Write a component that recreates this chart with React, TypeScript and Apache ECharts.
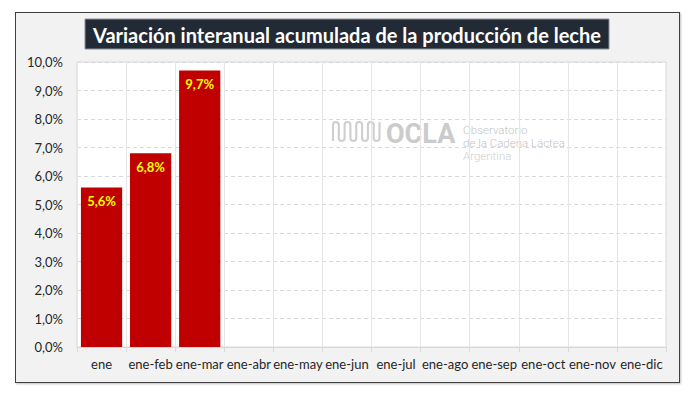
import React, { useEffect, useRef } from "react";
import * as echarts from "echarts";

const categories = ["ene", "ene-feb", "ene-mar", "ene-abr", "ene-may", "ene-jun", "ene-jul", "ene-ago", "ene-sep", "ene-oct", "ene-nov", "ene-dic"];
const values: (number | null)[] = [5.6, 6.8, 9.7, null, null, null, null, null, null, null, null, null];
const titleText = "Variación interanual acumulada de la producción de leche";

const wavePath =
  "M1,19 L1,3 A3,3 0 0 1 7,3 L7,16 A3,3 0 0 0 13,16 L13,3 A3,3 0 0 1 19,3 L19,16 A3,3 0 0 0 25,16 L25,3 A3,3 0 0 1 31,3 L31,16 A3,3 0 0 0 37,16 L37,3 A3,3 0 0 1 43,3 L43,16 A3,3 0 0 0 49,16 L49,0";

let registered = false;

export default function App() {
  const ref = useRef<HTMLDivElement>(null);
  useEffect(() => {
    if (!registered) {
      echarts.graphic.registerShape("oclawave", echarts.graphic.extendPath(wavePath, {}));
      registered = true;
    }
    const chart = echarts.init(ref.current!, null, { renderer: "svg" });
    const font = "Lato, 'Open Sans', sans-serif";
    chart.setOption({
      animation: false,
      backgroundColor: "transparent",
      textStyle: { fontFamily: font },
      grid: {
        left: 77,
        right: 29,
        top: 62,
        bottom: 51,
        show: true,
        backgroundColor: "#ffffff",
        borderColor: "#d9d9d9",
        borderWidth: 1,
      },
      xAxis: {
        type: "category",
        data: categories,
        axisLine: { lineStyle: { color: "#d9d9d9" } },
        axisTick: { show: true, length: 5, lineStyle: { color: "#d9d9d9" } },
        splitLine: { show: true, lineStyle: { color: "#e6e6e6", type: "solid" } },
        axisLabel: { color: "#262626", fontSize: 13, margin: 10, fontFamily: font, interval: 0 },
      },
      yAxis: {
        type: "value",
        min: 0,
        max: 10,
        interval: 1,
        axisLine: { show: false },
        axisTick: { show: false },
        splitLine: { lineStyle: { color: "#d9d9d9", type: [4, 3] } },
        axisLabel: {
          color: "#262626",
          fontSize: 13,
          margin: 14,
          fontFamily: font,
          formatter: (v: number) => v.toFixed(1).replace(".", ",") + "%",
        },
      },
      series: [
        {
          type: "bar",
          data: values,
          barCategoryGap: "16%",
          itemStyle: { color: "#c00000" },
          label: {
            show: true,
            position: "insideTop",
            distance: 7,
            color: "#ffff00",
            fontWeight: "bold",
            fontSize: 13,
            fontFamily: font,
            formatter: (p: any) => (p.value == null ? "" : p.value.toFixed(1).replace(".", ",") + "%"),
          },
        },
      ],
      graphic: [
        {
          type: "group",
          silent: true,
          z: 1,
          children: [
            {
              type: "oclawave",
              x: 332,
              y: 122,
              scaleX: 0.97,
              scaleY: 1,
              style: { stroke: "#cfcfcf", lineWidth: 2.2, fill: null },
            },
            {
              type: "text",
              x: 386,
              y: 134,
              style: {
                text: "OCLA",
                font: "bold 27px Roboto, sans-serif",
                fill: "#cbcbcb",
                verticalAlign: "middle",
                align: "left",
              },
            },
            {
              type: "text",
              x: 463,
              y: 130,
              style: { text: "Observatorio", font: "300 11.5px Roboto, sans-serif", fill: "#c4c4c4", verticalAlign: "middle" },
            },
            {
              type: "text",
              x: 463,
              y: 143,
              style: { text: "de la Cadena Láctea", font: "300 11.5px Roboto, sans-serif", fill: "#c4c4c4", verticalAlign: "middle" },
            },
            {
              type: "text",
              x: 463,
              y: 156,
              style: { text: "Argentina", font: "300 11.5px Roboto, sans-serif", fill: "#cfcfcf", verticalAlign: "middle" },
            },
          ],
        },
        {
          type: "rect",
          shape: { x: 85, y: 19, width: 524, height: 30 },
          style: { fill: "#222a35", stroke: "#8a8f96", lineWidth: 1 },
          z: 10,
        },
        {
          type: "text",
          x: 347,
          y: 34.5,
          z: 11,
          style: {
            text: titleText,
            font: "bold 20px Lato, 'Open Sans', sans-serif",
            fill: "#ffffff",
            align: "center",
            verticalAlign: "middle",
          },
        },
      ],
    });
    return () => chart.dispose();
  }, []);

  return (
    <div style={{ position: "fixed", left: 0, top: 0, width: 695, height: 398, background: "#ffffff" }}>
      <div
        style={{
          position: "absolute",
          left: 15,
          top: 12,
          width: 663,
          height: 369,
          background: "#f2f2f2",
          border: "1px solid #404040",
          boxShadow: "1px 1px 2px rgba(0,0,0,0.25)",
        }}
      />
      <div ref={ref} style={{ position: "absolute", left: 0, top: 0, width: 695, height: 398 }} />
    </div>
  );
}
